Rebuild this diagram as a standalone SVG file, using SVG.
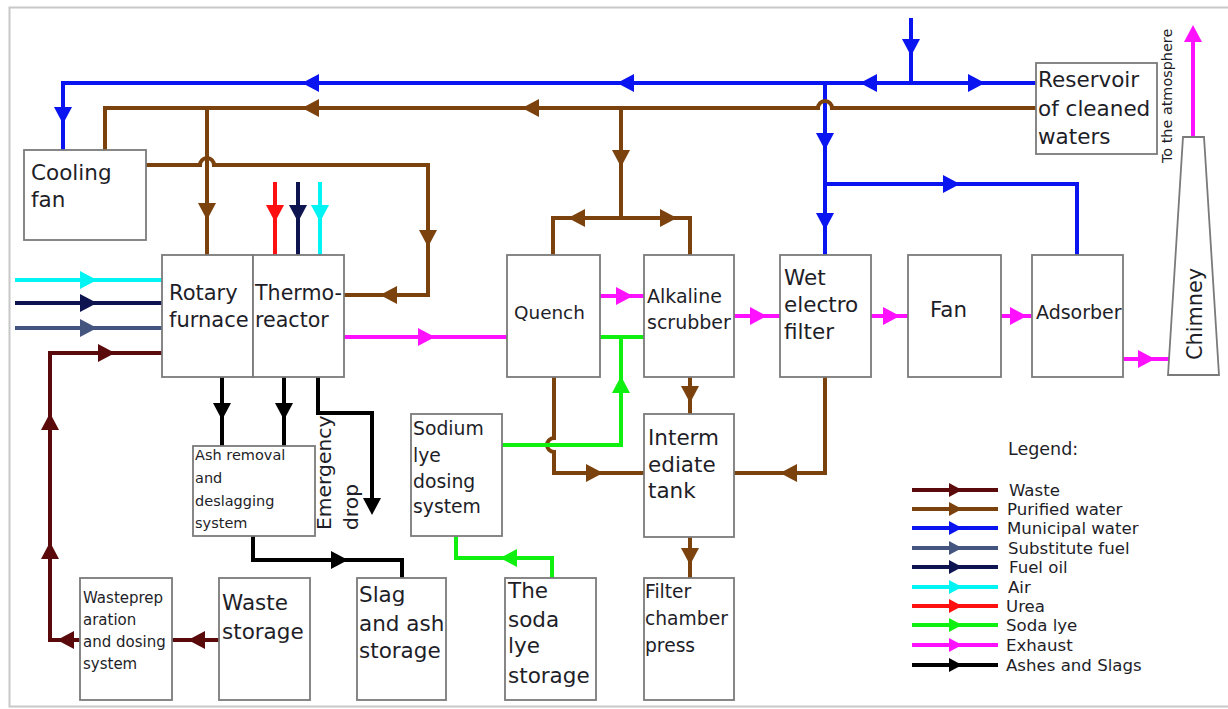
<svg xmlns="http://www.w3.org/2000/svg" xmlns:xlink="http://www.w3.org/1999/xlink" width="1228" height="709" viewBox="0 0 1228 709">
<style>
.box{fill:#fff;stroke:#7a7a7a;stroke-width:1.8}
.t{font-family:"DejaVu Sans","Open Sans",sans-serif;fill:#1e1e28}
.p{fill:none;stroke-width:4;stroke-linejoin:miter}
.w{stroke:#5a0a0a}.wf{fill:#5a0a0a}
.b{stroke:#7b420e}.bf{fill:#7b420e}
.m{stroke:#0a14f0}.mf{fill:#0a14f0}
.s{stroke:#44557f}.sf{fill:#44557f}
.n{stroke:#0e1450}.nf{fill:#0e1450}
.a{stroke:#00f4f4}.af{fill:#00f4f4}
.u{stroke:#ff1010}.uf{fill:#ff1010}
.g{stroke:#10f010}.gf{fill:#10f010}
.e{stroke:#ff10ff}.ef{fill:#ff10ff}
.k{stroke:#000}.kf{fill:#000}
</style>
<defs>
<path id="ah" d="M0,0 L-17,-9 L-17,9 Z"/>
<path id="lh" d="M0,0 L-13,-7 L-13,7 Z"/>
</defs>
<rect x="0" y="0" width="1228" height="709" fill="#fff"/>
<rect x="9.5" y="7.5" width="1230" height="699" fill="none" stroke="#c8c8c8" stroke-width="2"/>

<g id="connectors">
<!-- municipal water -->
<path class="p m" d="M911,18 V83"/>
<path class="p m" d="M1036,83 H63 V150"/>
<path class="p m" d="M825,83 V255"/>
<path class="p m" d="M825,184 H1077 V255"/>
<use href="#ah" class="mf" transform="translate(911,56) rotate(90)"/>
<use href="#ah" class="mf" transform="translate(860,83) rotate(180)"/>
<use href="#ah" class="mf" transform="translate(985,83)"/>
<use href="#ah" class="mf" transform="translate(617,83) rotate(180)"/>
<use href="#ah" class="mf" transform="translate(302,83) rotate(180)"/>
<use href="#ah" class="mf" transform="translate(63,124) rotate(90)"/>
<use href="#ah" class="mf" transform="translate(825,150) rotate(90)"/>
<use href="#ah" class="mf" transform="translate(825,230) rotate(90)"/>
<use href="#ah" class="mf" transform="translate(960,184)"/>
<!-- purified water -->
<path class="p b" d="M1036,108 H832 A7,7 0 0 0 818,108 H105 V150"/>
<path class="p b" d="M207,108 V255"/>
<path class="p b" d="M146,165 H200 A7,7 0 0 1 214,165 H428 V295 H344"/>
<path class="p b" d="M621,108 V218"/>
<path class="p b" d="M553,255 V218 H690 V255"/>
<path class="p b" d="M554,377 V438 A7,7 0 0 0 554,452 V473 H644"/>
<path class="p b" d="M825,377 V473 H734"/>
<path class="p b" d="M690,377 V414"/>
<path class="p b" d="M690,537 V578"/>
<use href="#ah" class="bf" transform="translate(302,108) rotate(180)"/>
<use href="#ah" class="bf" transform="translate(522,108) rotate(180)"/>
<use href="#ah" class="bf" transform="translate(207,220) rotate(90)"/>
<use href="#ah" class="bf" transform="translate(428,247) rotate(90)"/>
<use href="#ah" class="bf" transform="translate(380,295) rotate(180)"/>
<use href="#ah" class="bf" transform="translate(621,167) rotate(90)"/>
<use href="#ah" class="bf" transform="translate(568,218) rotate(180)"/>
<use href="#ah" class="bf" transform="translate(677,218)"/>
<use href="#ah" class="bf" transform="translate(603,473)"/>
<use href="#ah" class="bf" transform="translate(780,473) rotate(180)"/>
<use href="#ah" class="bf" transform="translate(690,403) rotate(90)"/>
<use href="#ah" class="bf" transform="translate(690,565) rotate(90)"/>
<!-- fuels / air / urea -->
<path class="p a" d="M15,280 H162"/>
<path class="p n" d="M15,303 H162"/>
<path class="p s" d="M15,328 H162"/>
<use href="#ah" class="af" transform="translate(97,280)"/>
<use href="#ah" class="nf" transform="translate(97,303)"/>
<use href="#ah" class="sf" transform="translate(97,328)"/>
<path class="p u" d="M275,182 V255"/>
<path class="p n" d="M298,182 V255"/>
<path class="p a" d="M320,182 V255"/>
<use href="#ah" class="uf" transform="translate(275,222) rotate(90)"/>
<use href="#ah" class="nf" transform="translate(298,222) rotate(90)"/>
<use href="#ah" class="af" transform="translate(320,222) rotate(90)"/>
<!-- waste -->
<path class="p w" d="M162,353 H50 V640 H80"/>
<path class="p w" d="M219,640 H172"/>
<use href="#ah" class="wf" transform="translate(115,353)"/>
<use href="#ah" class="wf" transform="translate(50,413) rotate(-90)"/>
<use href="#ah" class="wf" transform="translate(50,542) rotate(-90)"/>
<use href="#ah" class="wf" transform="translate(57,640) rotate(180)"/>
<use href="#ah" class="wf" transform="translate(188,640) rotate(180)"/>
<!-- ashes and slags -->
<path class="p k" stroke-width="5" d="M222,377 V446"/>
<path class="p k" stroke-width="5" d="M284,377 V446"/>
<path class="p k" stroke-width="5" d="M318,377 V413 H372 V505"/>
<path class="p k" stroke-width="5" d="M253,536 V560 H402 V578"/>
<use href="#ah" class="kf" transform="translate(222,420) rotate(90)"/>
<use href="#ah" class="kf" transform="translate(284,420) rotate(90)"/>
<use href="#ah" class="kf" transform="translate(372,515) rotate(90)"/>
<use href="#ah" class="kf" transform="translate(348,560)"/>
<!-- exhaust -->
<path class="p e" d="M344,337 H507"/>
<path class="p e" d="M600,296 H644"/>
<path class="p e" d="M734,316 H780"/>
<path class="p e" d="M871,316 H908"/>
<path class="p e" d="M1001,316 H1032"/>
<path class="p e" d="M1123,359 H1171"/>
<path class="p e" d="M1193,137 V40"/>
<use href="#ah" class="ef" transform="translate(435,337)"/>
<use href="#ah" class="ef" transform="translate(633,296)"/>
<use href="#ah" class="ef" transform="translate(767,316)"/>
<use href="#ah" class="ef" transform="translate(900,316)"/>
<use href="#ah" class="ef" transform="translate(1027,316)"/>
<use href="#ah" class="ef" transform="translate(1155,359)"/>
<use href="#ah" class="ef" transform="translate(1193,25) rotate(-90)"/>
<!-- soda lye -->
<path class="p g" d="M600,337 H644"/>
<path class="p g" d="M621,337 V445 H502"/>
<path class="p g" d="M552,578 V558 H456 V536"/>
<use href="#ah" class="gf" transform="translate(621,376) rotate(-90)"/>
<use href="#ah" class="gf" transform="translate(500,558) rotate(180)"/>
</g>

<g id="cooling-fan"><rect class="box" x="24" y="150" width="122" height="90"/>
<text class="t" font-size="21.5" x="31" y="180">Cooling</text><text class="t" font-size="21.5" x="31" y="207">fan</text></g>
<g id="rotary-furnace"><rect class="box" x="162" y="255" width="91" height="122"/>
<text class="t" font-size="21" x="169" y="300">Rotary</text><text class="t" font-size="21" x="169" y="327">furnace</text></g>
<g id="thermo-reactor"><rect class="box" x="253" y="255" width="91" height="122"/>
<text class="t" font-size="20.6" x="255" y="300">Thermo-</text><text class="t" font-size="20.6" x="255" y="327">reactor</text></g>
<g id="reservoir"><rect class="box" x="1036" y="63" width="121" height="91"/>
<text class="t" font-size="21.5" x="1038" y="87">Reservoir</text><text class="t" font-size="21.5" x="1038" y="116">of cleaned</text><text class="t" font-size="21.5" x="1038" y="144">waters</text></g>
<g id="quench"><rect class="box" x="507" y="255" width="93" height="122"/>
<text class="t" font-size="18.4" x="514" y="319">Quench</text></g>
<g id="alkaline-scrubber"><rect class="box" x="644" y="255" width="90" height="122"/>
<text class="t" font-size="19" x="647" y="303">Alkaline</text><text class="t" font-size="19" x="647" y="329">scrubber</text></g>
<g id="wet-electro-filter"><rect class="box" x="780" y="255" width="91" height="122"/>
<text class="t" font-size="21.5" x="784" y="285">Wet</text><text class="t" font-size="21.5" x="784" y="312">electro</text><text class="t" font-size="21.5" x="784" y="339">filter</text></g>
<g id="fan"><rect class="box" x="908" y="255" width="93" height="122"/>
<text class="t" font-size="21.4" x="930" y="317">Fan</text></g>
<g id="adsorber"><rect class="box" x="1032" y="255" width="91" height="122"/>
<text class="t" font-size="19" x="1036" y="319">Adsorber</text></g>
<g id="chimney"><path class="box" d="M1183,137 H1204 L1219,375 H1168 Z"/>
<text class="t" font-size="20.8" transform="translate(1202,360) rotate(-90)">Chimney</text></g>
<text class="t" font-size="14.4" transform="translate(1172,163) rotate(-90)">To the atmosphere</text>
<g id="ash-removal"><rect class="box" x="193" y="446" width="122" height="90"/>
<text class="t" font-size="14.5" x="195" y="460">Ash removal</text><text class="t" font-size="14.5" x="195" y="483">and</text><text class="t" font-size="14.5" x="195" y="506">deslagging</text><text class="t" font-size="14.5" x="195" y="528">system</text></g>
<text class="t" font-size="20.3" fill="#3a1030" transform="translate(331,530) rotate(-90)">Emergency</text>
<text class="t" font-size="20.3" fill="#1a2060" transform="translate(358,530) rotate(-90)">drop</text>
<g id="sodium-lye-dosing"><rect class="box" x="411" y="414" width="91" height="122"/>
<text class="t" font-size="18.8" x="413" y="435">Sodium</text><text class="t" font-size="18.8" x="413" y="462">lye</text><text class="t" font-size="18.8" x="413" y="488">dosing</text><text class="t" font-size="18.8" x="413" y="513">system</text></g>
<g id="intermediate-tank"><rect class="box" x="644" y="414" width="90" height="123"/>
<text class="t" font-size="21.5" x="648" y="445">Interm</text><text class="t" font-size="21.5" x="648" y="472">ediate</text><text class="t" font-size="21.5" x="648" y="498">tank</text></g>
<g id="waste-prep"><rect class="box" x="80" y="578" width="92" height="122"/>
<text class="t" font-size="15" x="83" y="603">Wasteprep</text><text class="t" font-size="15" x="83" y="625">aration</text><text class="t" font-size="15" x="83" y="647">and dosing</text><text class="t" font-size="15" x="83" y="669">system</text></g>
<g id="waste-storage"><rect class="box" x="219" y="578" width="91" height="122"/>
<text class="t" font-size="21.5" x="222" y="610">Waste</text><text class="t" font-size="21.5" x="222" y="639">storage</text></g>
<g id="slag-ash-storage"><rect class="box" x="357" y="578" width="89" height="122"/>
<text class="t" font-size="21.5" x="359" y="602">Slag</text><text class="t" font-size="21.5" x="359" y="631">and ash</text><text class="t" font-size="21.5" x="359" y="658">storage</text></g>
<g id="soda-lye-storage"><rect class="box" x="505" y="578" width="91" height="122"/>
<text class="t" font-size="21.5" x="508" y="598">The</text><text class="t" font-size="21.5" x="508" y="627">soda</text><text class="t" font-size="21.5" x="508" y="653">lye</text><text class="t" font-size="21.5" x="508" y="683">storage</text></g>
<g id="filter-chamber-press"><rect class="box" x="644" y="578" width="90" height="122"/>
<text class="t" font-size="18.7" x="645" y="598">Filter</text><text class="t" font-size="18.7" x="645" y="625">chamber</text><text class="t" font-size="18.7" x="645" y="652">press</text></g>

<g id="legend">
<text class="t" font-size="17.5" x="1008" y="455">Legend:</text>
<path class="p w" d="M912,490 H998"/><use href="#lh" class="wf" transform="translate(962,490)"/>
<path class="p b" d="M912,509 H998"/><use href="#lh" class="bf" transform="translate(962,509)"/>
<path class="p m" d="M912,528 H998"/><use href="#lh" class="mf" transform="translate(962,528)"/>
<path class="p s" d="M912,548 H998"/><use href="#lh" class="sf" transform="translate(962,548)"/>
<path class="p n" d="M912,567 H998"/><use href="#lh" class="nf" transform="translate(962,567)"/>
<path class="p a" d="M912,587 H998"/><use href="#lh" class="af" transform="translate(962,587)"/>
<path class="p u" d="M912,606 H998"/><use href="#lh" class="uf" transform="translate(962,606)"/>
<path class="p g" d="M912,625 H998"/><use href="#lh" class="gf" transform="translate(962,625)"/>
<path class="p e" d="M912,645 H998"/><use href="#lh" class="ef" transform="translate(962,645)"/>
<path class="p k" d="M912,665 H998"/><use href="#lh" class="kf" transform="translate(962,665)"/>
<text class="t" font-size="16.6" x="1009" y="496">Waste</text>
<text class="t" font-size="16.6" x="1007" y="515">Purified water</text>
<text class="t" font-size="16.6" x="1007" y="534">Municipal water</text>
<text class="t" font-size="16.6" x="1008" y="554">Substitute fuel</text>
<text class="t" font-size="16.6" x="1009" y="573">Fuel oil</text>
<text class="t" font-size="16.6" x="1008" y="593">Air</text>
<text class="t" font-size="16.6" x="1006" y="612">Urea</text>
<text class="t" font-size="16.6" x="1006" y="631">Soda lye</text>
<text class="t" font-size="16.6" x="1006" y="651">Exhaust</text>
<text class="t" font-size="16.6" x="1006" y="671">Ashes and Slags</text>
</g>
</svg>
